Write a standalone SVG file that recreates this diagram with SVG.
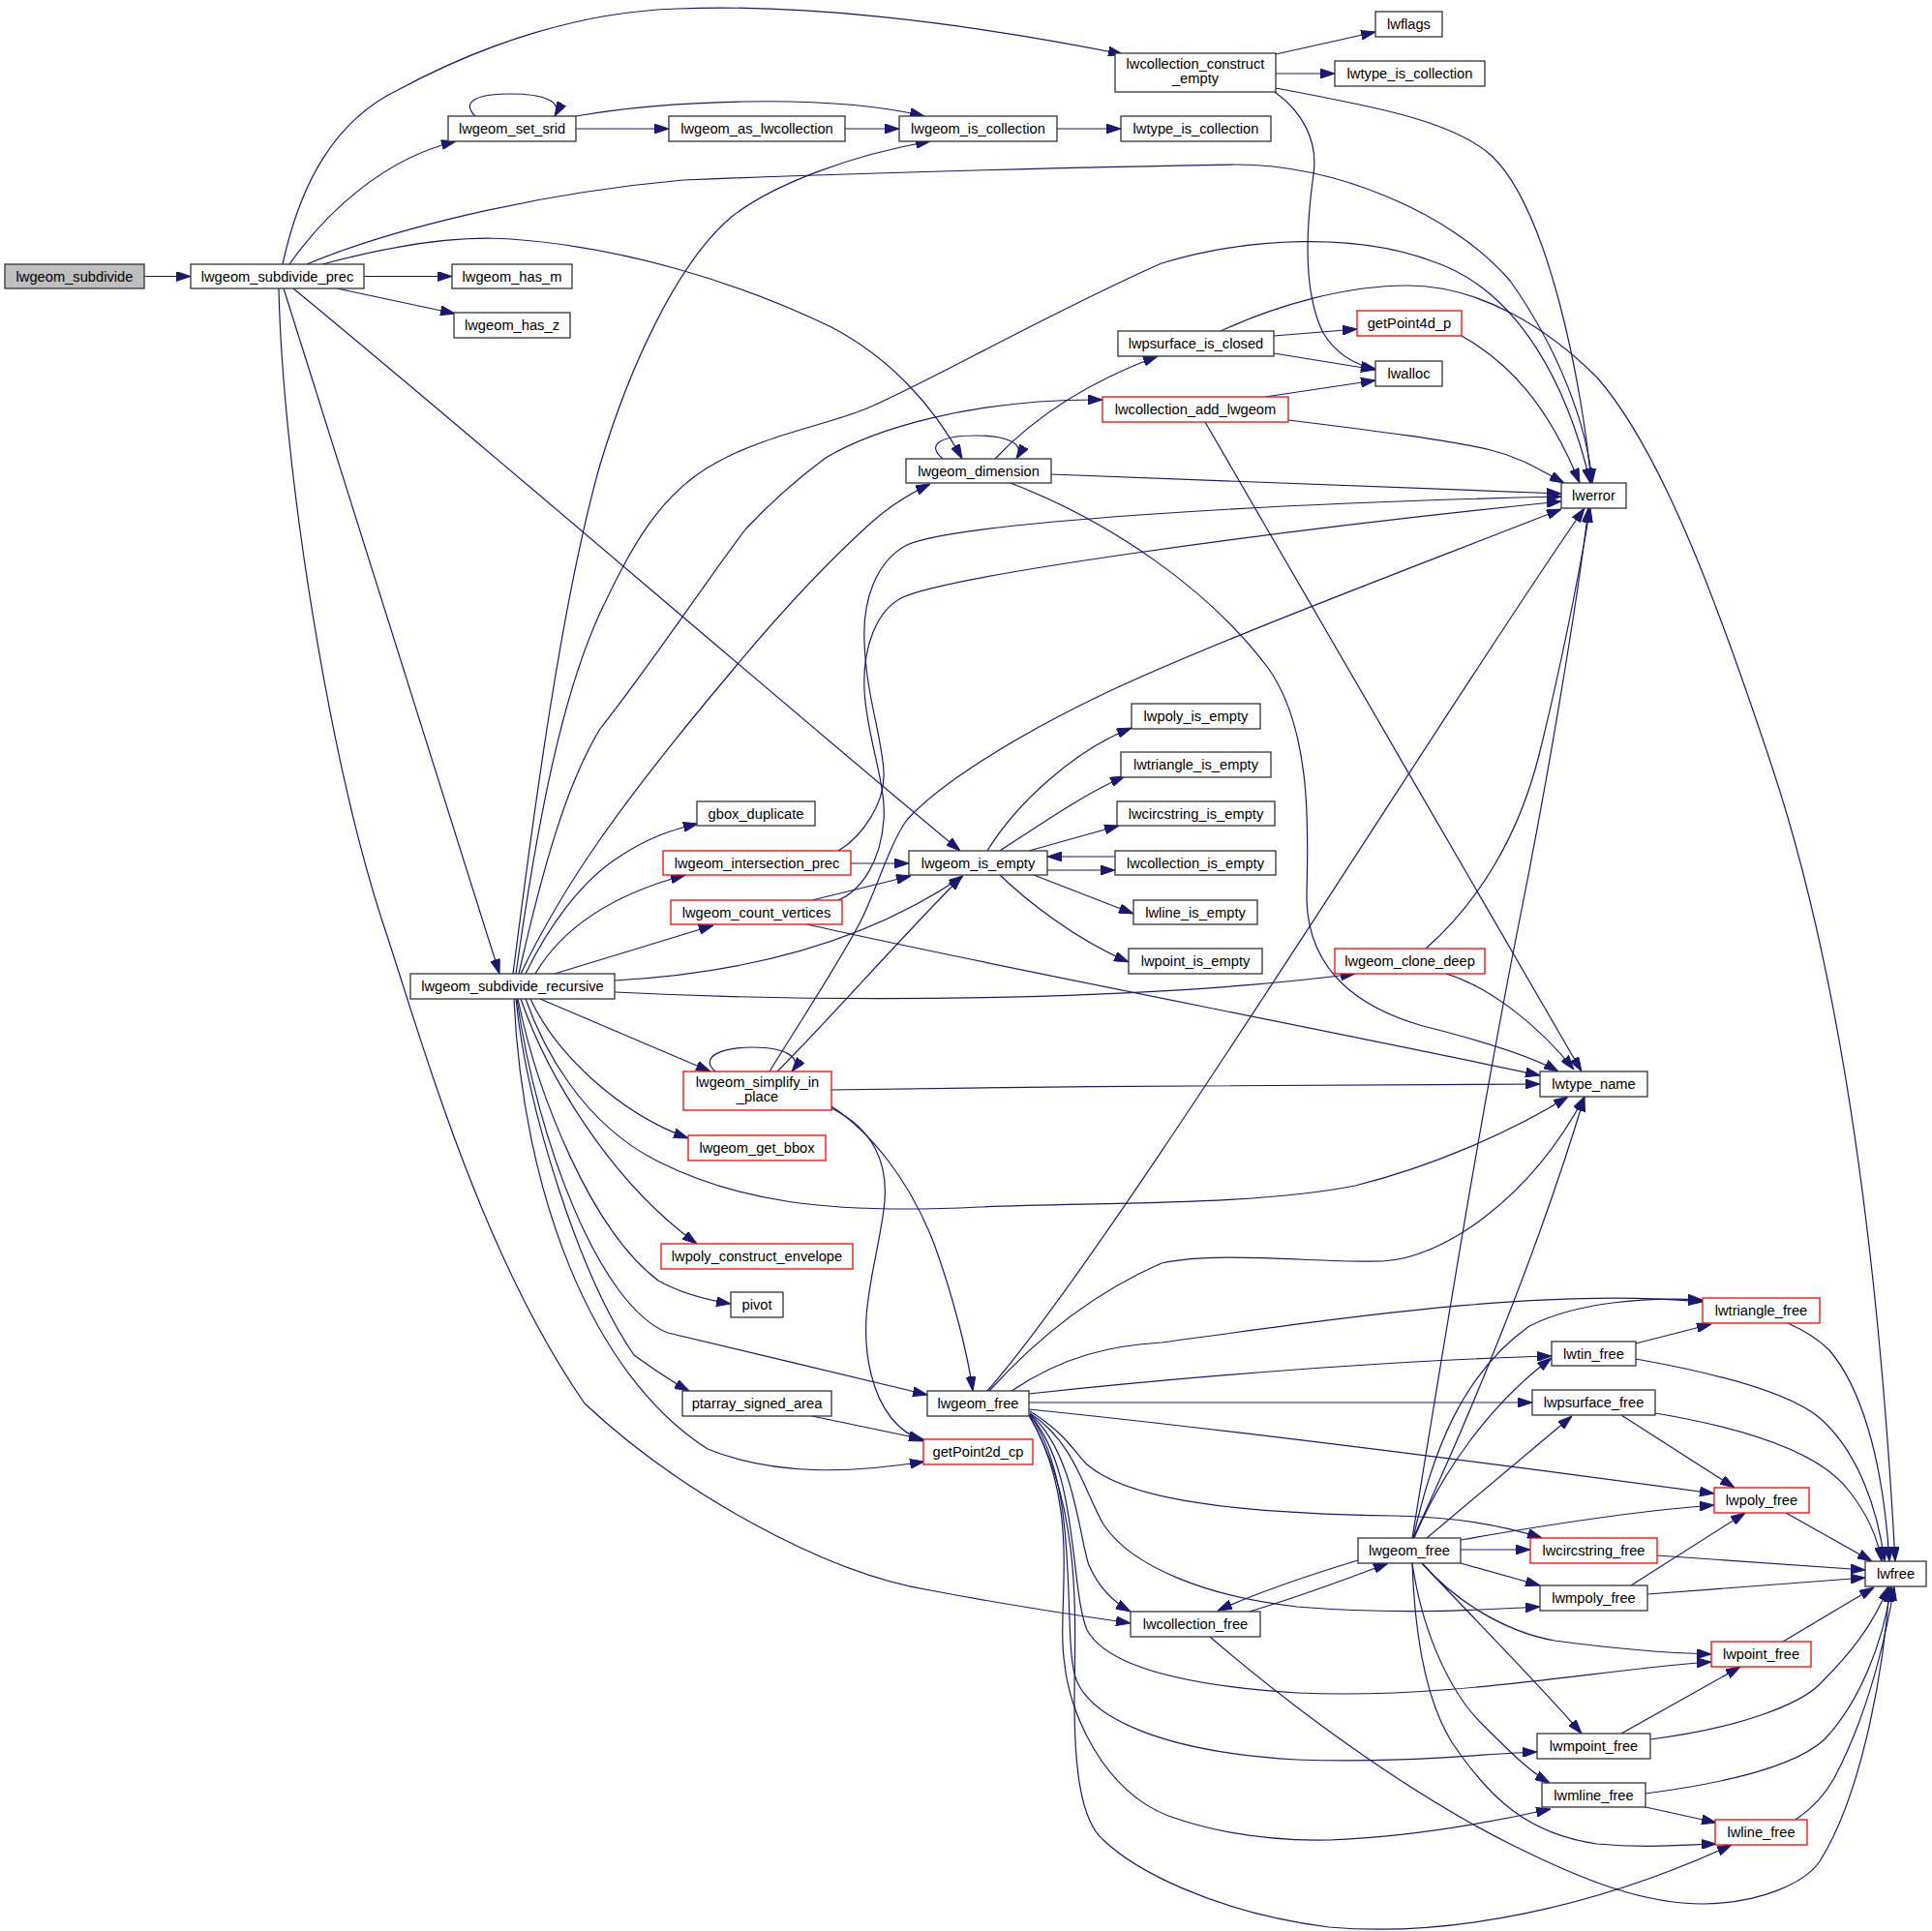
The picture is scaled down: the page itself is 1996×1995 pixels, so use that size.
<svg xmlns="http://www.w3.org/2000/svg" width="1996" height="1995" viewBox="0 0 1996 1995">
<defs>
<style>
.e{fill:none;stroke:#191970;stroke-width:1.2;marker-end:url(#a)}
.n rect{fill:#fff;stroke:#333;stroke-width:1.3}
.r rect{fill:#fff;stroke:#ff0000;stroke-width:1.3}
.root rect{fill:#bfbfbf;stroke:#333;stroke-width:1.3}
text{font-family:"Liberation Sans",Arial,sans-serif;font-size:14.7px;fill:#000;text-anchor:middle}
</style>
<marker id="a" viewBox="0 0 15 10" refX="15" refY="5" markerWidth="15" markerHeight="10" markerUnits="userSpaceOnUse" orient="auto">
<path d="M0,0 L15,5 L0,10 z" fill="#191970" stroke="#191970" stroke-width="1"/>
</marker>
</defs>
<rect width="1996" height="1995" fill="#fff"/>
<g id="edges">
<path class="e" d="M149,285.5 L197,285.5"/>
<path class="e" d="M292,273 C310,190 345,125 411,93 C500,45 600,12 700,9 C820,4 980,20 1160,56"/>
<path class="e" d="M299,273 C340,215 400,163 471,146"/>
<path class="e" d="M317,273 C400,238 550,200 706,186 C900,178 1150,172 1276,170 C1380,170 1500,220 1560,290 C1610,360 1640,440 1645,499"/>
<path class="e" d="M333,273 C400,255 470,243 528,247 C640,255 760,290 859,338 C920,370 965,420 994,474"/>
<path class="e" d="M376,285.5 L467,285.5"/>
<path class="e" d="M348,298 L470,324"/>
<path class="e" d="M303,298 C500,460 800,720 992,879"/>
<path class="e" d="M293,298 L516,1006"/>
<path class="e" d="M288,298 C292,480 340,790 400,967 C440,1090 500,1300 604,1450 C700,1540 850,1625 961,1643 C1050,1660 1120,1670 1168,1677"/>
<path class="e" d="M491,120 C475,104 495,97 527,97 C560,97 582,104 573,120"/>
<path class="e" d="M595,133 L691,133"/>
<path class="e" d="M595,120 C680,105 850,95 955,120"/>
<path class="e" d="M873,133 L929,133"/>
<path class="e" d="M1092,133 L1158,133"/>
<path class="e" d="M1318,56 L1421,33"/>
<path class="e" d="M1318,76 L1379,76"/>
<path class="e" d="M1318,91 C1420,110 1500,125 1540,160 C1600,215 1635,400 1644,499"/>
<path class="e" d="M1317,95 C1345,115 1362,145 1357,180 C1350,230 1345,300 1367,344 C1380,365 1400,377 1421,381"/>
<path class="e" d="M1316,347 L1402,340"/>
<path class="e" d="M1316,365 L1421,382"/>
<path class="e" d="M1261,342 C1320,315 1390,295 1454,295 C1530,295 1600,340 1650,390 C1720,470 1780,640 1830,790 C1900,1000 1940,1280 1958,1613"/>
<path class="e" d="M1510,347 C1560,375 1600,420 1632,499"/>
<path class="e" d="M1307,410 L1421,393"/>
<path class="e" d="M1331,434 C1420,445 1500,455 1540,465 C1570,472 1590,485 1616,499"/>
<path class="e" d="M1245,436 C1300,530 1560,980 1634,1107"/>
<path class="e" d="M974,474 C955,458 975,450 1008,450 C1040,450 1060,458 1050,474"/>
<path class="e" d="M1028,474 C1060,440 1110,400 1196,368"/>
<path class="e" d="M1086,490 L1613,510"/>
<path class="e" d="M1044,499 C1150,540 1250,610 1310,690 C1360,760 1350,880 1350,930 C1352,1000 1400,1040 1470,1060 C1530,1075 1580,1090 1610,1107"/>
<path class="e" d="M1020,879 C1050,830 1110,775 1169,752"/>
<path class="e" d="M1033,879 C1070,855 1120,820 1162,802"/>
<path class="e" d="M1063,879 L1156,853"/>
<path class="e" d="M1082,899 L1152,899"/>
<path class="e" d="M1152,885 L1082,885"/>
<path class="e" d="M1068,904 L1171,944"/>
<path class="e" d="M1033,904 C1060,930 1110,970 1166,994"/>
<path class="e" d="M879,892 L939,892"/>
<path class="e" d="M866,879 C890,865 915,830 913,797 C911,760 895,720 893,663 C891,620 905,580 937,563 C990,540 1300,520 1613,513"/>
<path class="e" d="M839,930 C880,920 920,910 941,905"/>
<path class="e" d="M866,930 C890,920 910,890 913,847 C916,810 895,760 893,713 C891,670 905,630 933,617 C980,595 1300,550 1613,518"/>
<path class="e" d="M834,955 C1000,993 1350,1060 1591,1111"/>
<path class="e" d="M530,1006 C550,850 580,620 620,480 C650,380 700,270 757,223 C800,190 880,160 961,146"/>
<path class="e" d="M533,1006 C555,850 580,720 620,633 C650,570 680,510 740,478 C790,450 850,440 893,423 C950,400 1080,325 1200,272 C1290,245 1400,240 1480,270 C1570,300 1620,400 1643,499"/>
<path class="e" d="M536,1006 C560,900 585,810 620,753 C670,690 730,600 770,547 C800,515 830,490 853,473 C900,445 1000,412 1139,413"/>
<path class="e" d="M538,1006 C560,960 590,910 620,867 C660,810 700,760 753,697 C800,640 850,585 900,540 C920,522 940,510 961,500"/>
<path class="e" d="M543,1006 C565,960 600,910 640,885 C670,865 695,857 721,851"/>
<path class="e" d="M553,1006 C580,960 630,925 708,904"/>
<path class="e" d="M573,1006 L737,956"/>
<path class="e" d="M635,1013 C780,1005 900,970 995,905"/>
<path class="e" d="M635,1025 C900,1038 1200,1032 1400,1006"/>
<path class="e" d="M558,1032 L734,1107"/>
<path class="e" d="M548,1032 C575,1090 640,1150 711,1176"/>
<path class="e" d="M543,1032 C560,1080 600,1160 680,1200 C760,1240 850,1255 1012,1247 C1150,1242 1300,1245 1400,1225 C1480,1205 1560,1170 1620,1133"/>
<path class="e" d="M538,1032 C565,1110 630,1220 720,1285"/>
<path class="e" d="M535,1032 C555,1130 610,1270 680,1323 C705,1337 730,1343 755,1347"/>
<path class="e" d="M534,1032 C555,1180 620,1350 690,1377 C760,1393 900,1428 958,1441"/>
<path class="e" d="M533,1032 C545,1150 600,1320 655,1400 C680,1418 695,1428 712,1437"/>
<path class="e" d="M531,1032 C540,1230 610,1420 731,1497 C800,1525 880,1522 955,1510"/>
<path class="e" d="M739,1107 C722,1092 745,1082 778,1082 C810,1082 830,1092 818,1107"/>
<path class="e" d="M803,1107 C860,1050 920,980 994,905"/>
<path class="e" d="M795,1107 C830,1050 870,990 890,950 C905,920 920,870 937,847 C970,810 1050,760 1140,717 C1250,665 1450,590 1613,526"/>
<path class="e" d="M859,1126 C1100,1122 1400,1120 1591,1120"/>
<path class="e" d="M859,1143 C900,1170 940,1220 965,1285 C985,1340 1000,1400 1005,1437"/>
<path class="e" d="M859,1145 C900,1165 920,1200 913,1250 C905,1310 885,1360 900,1420 C910,1460 930,1480 954,1489"/>
<path class="e" d="M839,1463 L954,1487"/>
<path class="e" d="M1020,1437 C1150,1290 1500,720 1637,525"/>
<path class="e" d="M1022,1437 C1060,1395 1120,1340 1200,1305 C1260,1292 1360,1305 1428,1303 C1490,1300 1580,1240 1637,1133"/>
<path class="e" d="M1045,1437 C1100,1400 1150,1390 1200,1387 C1400,1360 1600,1330 1759,1345"/>
<path class="e" d="M1063,1440 C1250,1420 1450,1405 1603,1401"/>
<path class="e" d="M1063,1449 L1583,1449"/>
<path class="e" d="M1063,1456 C1300,1480 1600,1520 1771,1543"/>
<path class="e" d="M1064,1458 C1100,1480 1110,1500 1123,1513 C1160,1545 1250,1563 1440,1566 C1500,1567 1550,1575 1593,1589"/>
<path class="e" d="M1064,1460 C1110,1490 1120,1540 1140,1575 C1170,1620 1250,1650 1340,1660 C1440,1668 1520,1664 1591,1660"/>
<path class="e" d="M1064,1461 C1110,1500 1115,1590 1125,1617 C1135,1640 1150,1655 1168,1665"/>
<path class="e" d="M1064,1462 C1115,1520 1105,1640 1123,1684 C1140,1715 1200,1740 1340,1749 C1500,1756 1650,1725 1768,1717"/>
<path class="e" d="M1064,1462 C1120,1540 1095,1700 1113,1738 C1130,1775 1200,1810 1340,1818 C1450,1822 1530,1812 1588,1810"/>
<path class="e" d="M1063,1462 C1120,1560 1090,1660 1100,1720 C1105,1770 1140,1850 1207,1876 C1260,1895 1320,1902 1373,1901 C1450,1898 1530,1885 1602,1869"/>
<path class="e" d="M1063,1462 C1120,1560 1110,1680 1110,1756 C1110,1820 1115,1880 1140,1901 C1170,1930 1250,1975 1373,1991 C1500,2002 1650,1970 1789,1906"/>
<path class="e" d="M1459,1589 C1490,1400 1530,1150 1570,950 C1600,800 1630,620 1641,525"/>
<path class="e" d="M1460,1589 C1520,1460 1590,1290 1637,1133"/>
<path class="e" d="M1460,1589 C1480,1500 1510,1420 1580,1370 C1630,1345 1700,1340 1759,1343"/>
<path class="e" d="M1461,1589 C1490,1520 1540,1450 1603,1403"/>
<path class="e" d="M1474,1589 L1624,1463"/>
<path class="e" d="M1509,1591 C1600,1575 1700,1560 1771,1555"/>
<path class="e" d="M1509,1601 L1581,1601"/>
<path class="e" d="M1509,1615 L1591,1638"/>
<path class="e" d="M1403,1612 C1350,1628 1300,1645 1258,1664"/>
<path class="e" d="M1291,1665 C1340,1650 1390,1632 1434,1615"/>
<path class="e" d="M1469,1615 C1500,1650 1550,1685 1606,1695 C1680,1705 1730,1708 1768,1709"/>
<path class="e" d="M1469,1615 C1530,1680 1590,1740 1634,1791"/>
<path class="e" d="M1459,1615 C1470,1690 1500,1750 1530,1780 C1560,1810 1580,1830 1601,1842"/>
<path class="e" d="M1459,1615 C1462,1700 1475,1760 1500,1800 C1540,1860 1580,1895 1650,1905 C1700,1910 1740,1906 1773,1905"/>
<path class="e" d="M1847,1367 C1865,1375 1880,1385 1890,1395 C1920,1430 1945,1500 1952,1613"/>
<path class="e" d="M1690,1388 L1768,1368"/>
<path class="e" d="M1690,1404 C1780,1420 1850,1440 1880,1465 C1920,1500 1940,1560 1947,1613"/>
<path class="e" d="M1675,1462 L1792,1537"/>
<path class="e" d="M1710,1460 C1800,1475 1880,1500 1910,1540 C1930,1565 1940,1590 1944,1613"/>
<path class="e" d="M1845,1563 L1934,1613"/>
<path class="e" d="M1712,1607 L1927,1622"/>
<path class="e" d="M1685,1638 L1803,1563"/>
<path class="e" d="M1702,1647 L1927,1630"/>
<path class="e" d="M1842,1696 L1936,1640"/>
<path class="e" d="M1675,1791 L1798,1722"/>
<path class="e" d="M1705,1797 C1800,1785 1860,1760 1880,1740 C1910,1710 1935,1680 1951,1639"/>
<path class="e" d="M1700,1867 L1773,1883"/>
<path class="e" d="M1700,1853 C1800,1840 1860,1820 1885,1797 C1920,1760 1945,1700 1954,1639"/>
<path class="e" d="M1855,1880 C1870,1870 1885,1855 1895,1837 C1925,1780 1945,1710 1957,1639"/>
<path class="e" d="M1250,1691 C1330,1760 1450,1850 1560,1905 C1640,1945 1700,1967 1760,1967 C1820,1966 1865,1945 1880,1923 C1920,1860 1945,1740 1952,1640"/>
<path class="e" d="M1473,980 C1530,930 1570,860 1590,780 C1610,700 1630,600 1643,525"/>
<path class="e" d="M1494,1006 C1540,1020 1590,1060 1626,1105"/>
</g>
<g id="n1" class="root"><rect x="5" y="273" width="144" height="25"/><text x="77" y="290.5">lwgeom_subdivide</text></g>
<g id="n2" class="n"><rect x="197" y="273" width="179" height="25"/><text x="286.5" y="290.5">lwgeom_subdivide_prec</text></g>
<g id="n3" class="n"><rect x="467" y="273" width="124" height="25"/><text x="529" y="290.5">lwgeom_has_m</text></g>
<g id="n4" class="n"><rect x="469" y="323" width="120" height="26"/><text x="529" y="341">lwgeom_has_z</text></g>
<g id="n5" class="n"><rect x="463" y="120" width="132" height="26"/><text x="529" y="138">lwgeom_set_srid</text></g>
<g id="n6" class="n"><rect x="691" y="120" width="182" height="26"/><text x="782" y="138">lwgeom_as_lwcollection</text></g>
<g id="n7" class="n"><rect x="929" y="120" width="163" height="26"/><text x="1010.5" y="138">lwgeom_is_collection</text></g>
<g id="n8" class="n"><rect x="1158" y="120" width="155" height="26"/><text x="1235.5" y="138">lwtype_is_collection</text></g>
<g id="n9" class="n"><rect x="1152" y="55" width="166" height="40"/><text x="1235" y="70.5">lwcollection_construct</text><text x="1235" y="85.5">_empty</text></g>
<g id="n10" class="n"><rect x="1421" y="12" width="69" height="26"/><text x="1455.5" y="30">lwflags</text></g>
<g id="n11" class="n"><rect x="1379" y="63" width="155" height="26"/><text x="1456.5" y="81">lwtype_is_collection</text></g>
<g id="n12" class="n"><rect x="1613" y="499" width="67" height="26"/><text x="1646.5" y="517">lwerror</text></g>
<g id="n13" class="n"><rect x="1155" y="342" width="161" height="26"/><text x="1235.5" y="360">lwpsurface_is_closed</text></g>
<g id="n14" class="r"><rect x="1402" y="321" width="108" height="26"/><text x="1456" y="339">getPoint4d_p</text></g>
<g id="n15" class="n"><rect x="1421" y="373" width="69" height="26"/><text x="1455.5" y="391">lwalloc</text></g>
<g id="n16" class="r"><rect x="1139" y="410" width="192" height="26"/><text x="1235" y="428">lwcollection_add_lwgeom</text></g>
<g id="n17" class="n"><rect x="936" y="474" width="150" height="25"/><text x="1011" y="491.5">lwgeom_dimension</text></g>
<g id="n18" class="n"><rect x="1169" y="727" width="133" height="26"/><text x="1235.5" y="745">lwpoly_is_empty</text></g>
<g id="n19" class="n"><rect x="1158" y="777" width="155" height="26"/><text x="1235.5" y="795">lwtriangle_is_empty</text></g>
<g id="n20" class="n"><rect x="1154" y="828" width="163" height="25"/><text x="1235.5" y="845.5">lwcircstring_is_empty</text></g>
<g id="n21" class="n"><rect x="1152" y="879" width="166" height="25"/><text x="1235" y="896.5">lwcollection_is_empty</text></g>
<g id="n22" class="n"><rect x="1171" y="930" width="128" height="25"/><text x="1235" y="947.5">lwline_is_empty</text></g>
<g id="n23" class="n"><rect x="1166" y="980" width="138" height="26"/><text x="1235" y="998">lwpoint_is_empty</text></g>
<g id="n24" class="n"><rect x="939" y="879" width="143" height="25"/><text x="1010.5" y="896.5">lwgeom_is_empty</text></g>
<g id="n25" class="n"><rect x="720" y="828" width="122" height="25"/><text x="781" y="845.5">gbox_duplicate</text></g>
<g id="n26" class="r"><rect x="685" y="879" width="194" height="25"/><text x="782" y="896.5">lwgeom_intersection_prec</text></g>
<g id="n27" class="r"><rect x="693" y="930" width="177" height="25"/><text x="781.5" y="947.5">lwgeom_count_vertices</text></g>
<g id="n28" class="n"><rect x="424" y="1006" width="211" height="26"/><text x="529.5" y="1024">lwgeom_subdivide_recursive</text></g>
<g id="n29" class="r"><rect x="1379" y="980" width="155" height="26"/><text x="1456.5" y="998">lwgeom_clone_deep</text></g>
<g id="n30" class="n"><rect x="1591" y="1107" width="111" height="26"/><text x="1646.5" y="1125">lwtype_name</text></g>
<g id="n31" class="r"><rect x="706" y="1107" width="153" height="40"/><text x="782.5" y="1122.5">lwgeom_simplify_in</text><text x="782.5" y="1137.5">_place</text></g>
<g id="n32" class="r"><rect x="711" y="1173" width="142" height="26"/><text x="782" y="1191">lwgeom_get_bbox</text></g>
<g id="n33" class="r"><rect x="683" y="1285" width="198" height="26"/><text x="782" y="1303">lwpoly_construct_envelope</text></g>
<g id="n34" class="n"><rect x="755" y="1335" width="54" height="26"/><text x="782" y="1353">pivot</text></g>
<g id="n35" class="n"><rect x="705" y="1437" width="154" height="26"/><text x="782" y="1455">ptarray_signed_area</text></g>
<g id="n36" class="n"><rect x="958" y="1437" width="105" height="26"/><text x="1010.5" y="1455">lwgeom_free</text></g>
<g id="n37" class="r"><rect x="954" y="1487" width="113" height="26"/><text x="1010.5" y="1505">getPoint2d_cp</text></g>
<g id="n38" class="r"><rect x="1759" y="1341" width="121" height="26"/><text x="1819.5" y="1359">lwtriangle_free</text></g>
<g id="n39" class="n"><rect x="1603" y="1386" width="87" height="25"/><text x="1646.5" y="1403.5">lwtin_free</text></g>
<g id="n40" class="n"><rect x="1583" y="1436" width="127" height="26"/><text x="1646.5" y="1454">lwpsurface_free</text></g>
<g id="n41" class="r"><rect x="1771" y="1537" width="98" height="26"/><text x="1820" y="1555">lwpoly_free</text></g>
<g id="n42" class="n"><rect x="1403" y="1589" width="106" height="26"/><text x="1456" y="1607">lwgeom_free</text></g>
<g id="n43" class="r"><rect x="1581" y="1589" width="131" height="26"/><text x="1646.5" y="1607">lwcircstring_free</text></g>
<g id="n44" class="n"><rect x="1927" y="1613" width="63" height="26"/><text x="1958.5" y="1631">lwfree</text></g>
<g id="n45" class="n"><rect x="1591" y="1638" width="111" height="26"/><text x="1646.5" y="1656">lwmpoly_free</text></g>
<g id="n46" class="n"><rect x="1168" y="1665" width="134" height="26"/><text x="1235" y="1683">lwcollection_free</text></g>
<g id="n47" class="r"><rect x="1768" y="1696" width="103" height="26"/><text x="1819.5" y="1714">lwpoint_free</text></g>
<g id="n48" class="n"><rect x="1588" y="1791" width="117" height="26"/><text x="1646.5" y="1809">lwmpoint_free</text></g>
<g id="n49" class="n"><rect x="1593" y="1842" width="107" height="25"/><text x="1646.5" y="1859.5">lwmline_free</text></g>
<g id="n50" class="r"><rect x="1772" y="1880" width="95" height="26"/><text x="1819.5" y="1898">lwline_free</text></g>
</svg>
